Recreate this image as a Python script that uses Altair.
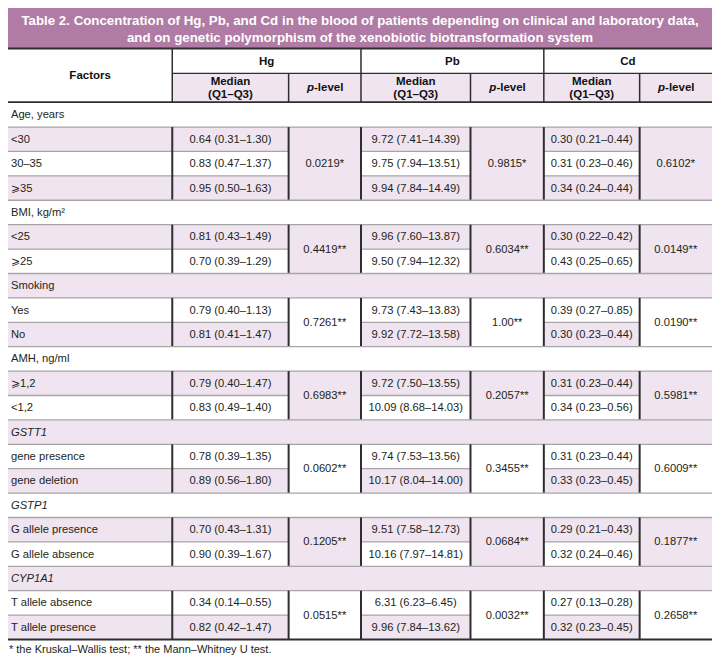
import altair as alt
import pandas as pd

# ---------------- data ----------------
title_lines = [
    "Table 2. Concentration of Hg, Pb, and Cd in the blood of patients depending on clinical and laboratory data,",
    "and on genetic polymorphism of the xenobiotic biotransformation system",
]
metals = ["Hg", "Pb", "Cd"]
header_factors = "Factors"
header_median = ["Median", "(Q1–Q3)"]
header_p_italic = "p"
header_p_rest = "-level"

sections = ["Age, years", "BMI, kg/m²", "Smoking", "AMH, ng/ml", "GSTT1", "GSTP1", "CYP1A1"]
section_italic = [False, False, False, False, True, True, True]
factor_levels = [
    ["<30", "30–35", "⩾35"],
    ["<25", "⩾25"],
    ["Yes", "No"],
    ["⩾1,2", "<1,2"],
    ["gene presence", "gene deletion"],
    ["G allele presence", "G allele absence"],
    ["T allele absence", "T allele presence"],
]

hg_median = [
    ["0.64 (0.31–1.30)", "0.83 (0.47–1.37)", "0.95 (0.50–1.63)"],
    ["0.81 (0.43–1.49)", "0.70 (0.39–1.29)"],
    ["0.79 (0.40–1.13)", "0.81 (0.41–1.47)"],
    ["0.79 (0.40–1.47)", "0.83 (0.49–1.40)"],
    ["0.78 (0.39–1.35)", "0.89 (0.56–1.80)"],
    ["0.70 (0.43–1.31)", "0.90 (0.39–1.67)"],
    ["0.34 (0.14–0.55)", "0.82 (0.42–1.47)"],
]
hg_p = ["0.0219*", "0.4419**", "0.7261**", "0.6983**", "0.0602**", "0.1205**", "0.0515**"]

pb_median = [
    ["9.72 (7.41–14.39)", "9.75 (7.94–13.51)", "9.94 (7.84–14.49)"],
    ["9.96 (7.60–13.87)", "9.50 (7.94–12.32)"],
    ["9.73 (7.43–13.83)", "9.92 (7.72–13.58)"],
    ["9.72 (7.50–13.55)", "10.09 (8.68–14.03)"],
    ["9.74 (7.53–13.56)", "10.17 (8.04–14.00)"],
    ["9.51 (7.58–12.73)", "10.16 (7.97–14.81)"],
    ["6.31 (6.23–6.45)", "9.96 (7.84–13.62)"],
]
pb_p = ["0.9815*", "0.6034**", "1.00**", "0.2057**", "0.3455**", "0.0684**", "0.0032**"]

cd_median = [
    ["0.30 (0.21–0.44)", "0.31 (0.23–0.46)", "0.34 (0.24–0.44)"],
    ["0.30 (0.22–0.42)", "0.43 (0.25–0.65)"],
    ["0.39 (0.27–0.85)", "0.30 (0.23–0.44)"],
    ["0.31 (0.23–0.44)", "0.34 (0.23–0.56)"],
    ["0.31 (0.23–0.44)", "0.33 (0.23–0.45)"],
    ["0.29 (0.21–0.43)", "0.32 (0.24–0.46)"],
    ["0.27 (0.13–0.28)", "0.32 (0.23–0.45)"],
]
cd_p = ["0.6102*", "0.0149**", "0.0190**", "0.5981**", "0.6009**", "0.1877**", "0.2658**"]

footnote = "* the Kruskal–Wallis test; ** the Mann–Whitney U test."

# ---------------- layout ----------------
W, H = 720, 667
COL = [0, 168, 287, 361, 473, 548, 646, 720]
TITLE_BOT = 41.5
SUB_Y = 67
HEAD_BOT = 96.5
ROW0 = 97
RH = 25
LAV = "#efe4ef"
WHITE = "#ffffff"
TITLE_BG = "#b07ba4"
DARK = "#2e2e2e"
GRAY = "#a6a6a6"
TXT = "#231f20"
BODY_FONT = "Liberation Sans, Arial, sans-serif"
TITLE_FONT = "Liberation Sans, Arial, sans-serif"

medians = [hg_median, pb_median, cd_median]
pvals = [hg_p, pb_p, cd_p]
med_cols = [(COL[1], COL[2]), (COL[3], COL[4]), (COL[5], COL[6])]
p_cols = [(COL[2], COL[3]), (COL[4], COL[5]), (COL[6], COL[7])]

rects, rules = [], []
t_left, t_left_it, t_center = [], [], []

# title
rects.append(dict(x=0, x2=W, y=0, y2=TITLE_BOT, fill=TITLE_BG))
title_txt = [dict(x=W / 2, y=13.5, text=title_lines[0]), dict(x=W / 2, y=31, text=title_lines[1])]

# header
rects.append(dict(x=COL[1], x2=W, y=SUB_Y, y2=HEAD_BOT, fill=LAV))
head_bold = [dict(x=COL[1] / 2, y=69.5, text=header_factors)]
for k, (a, b) in enumerate([(COL[1], COL[3]), (COL[3], COL[5]), (COL[5], COL[7])]):
    head_bold.append(dict(x=(a + b) / 2, y=55, text=metals[k]))
p_it, p_rest = [], []
for (a, b) in med_cols:
    head_bold.append(dict(x=(a + b) / 2, y=75.5, text=header_median[0]))
    head_bold.append(dict(x=(a + b) / 2, y=89, text=header_median[1]))
for (a, b) in p_cols:
    c = (a + b) / 2 - 11
    p_it.append(dict(x=c, y=82, text=header_p_italic))
    p_rest.append(dict(x=c, y=82, text=header_p_rest))

rules.append(dict(x=0, x2=W, y=TITLE_BOT, y2=TITLE_BOT, c=DARK, w=2))
rules.append(dict(x=COL[1], x2=W, y=SUB_Y, y2=SUB_Y, c=DARK, w=1.3))
rules.append(dict(x=0, x2=W, y=HEAD_BOT, y2=HEAD_BOT, c=DARK, w=1.8))
for xc in (COL[1], COL[3], COL[5]):
    rules.append(dict(x=xc, x2=xc, y=TITLE_BOT, y2=HEAD_BOT, c=DARK, w=1.5))
for xc in (COL[2], COL[4], COL[6]):
    rules.append(dict(x=xc, x2=xc, y=SUB_Y, y2=HEAD_BOT, c=DARK, w=1.5))

# body
r = 0
for g, sec in enumerate(sections):
    y0 = ROW0 + RH * r
    fill = LAV if r % 2 else WHITE
    rects.append(dict(x=0, x2=W, y=y0, y2=y0 + RH, fill=fill))
    (t_left_it if section_italic[g] else t_left).append(dict(x=3, y=y0 + RH / 2 + 0.5, text=sec))
    if r > 0:
        rules.append(dict(x=0, x2=W, y=y0, y2=y0, c=GRAY, w=1.3))
    r += 1
    first = r
    n = len(factor_levels[g])
    for j in range(n):
        y0 = ROW0 + RH * r
        fill = LAV if r % 2 else WHITE
        rects.append(dict(x=0, x2=COL[1], y=y0, y2=y0 + RH, fill=fill))
        t_left.append(dict(x=3, y=y0 + RH / 2 + 0.5, text=factor_levels[g][j]))
        for k, (a, b) in enumerate(med_cols):
            rects.append(dict(x=a, x2=b, y=y0, y2=y0 + RH, fill=fill))
            t_center.append(dict(x=(a + b) / 2, y=y0 + RH / 2 + 0.5, text=medians[k][g][j]))
        if j == 0:
            rules.append(dict(x=0, x2=W, y=y0, y2=y0, c=GRAY, w=1.3))
        else:
            for (a, b) in [(0, COL[2]), (COL[3], COL[4]), (COL[5], COL[6])]:
                rules.append(dict(x=a, x2=b, y=y0, y2=y0, c=GRAY, w=1.3))
        r += 1
    ytop = ROW0 + RH * first
    ybot = ROW0 + RH * r
    pfill = LAV if first % 2 else WHITE
    for k, (a, b) in enumerate(p_cols):
        rects.append(dict(x=a, x2=b, y=ytop, y2=ybot, fill=pfill))
        t_center.append(dict(x=(a + b) / 2, y=(ytop + ybot) / 2 + 0.5, text=pvals[k][g]))
    for xc in COL[1:7]:
        rules.append(dict(x=xc, x2=xc, y=ytop, y2=ybot, c=DARK, w=2))

bottom = ROW0 + RH * r
rules.append(dict(x=0, x2=W, y=bottom, y2=bottom, c=DARK, w=1.8))
foot_txt = [dict(x=1, y=bottom + 10.5, text=footnote)]

# ---------------- chart ----------------
xs = alt.Scale(domain=[0, W], nice=False, zero=False)
ys = alt.Scale(domain=[0, H], nice=False, zero=False, reverse=True)
X = alt.X("x:Q", scale=xs, axis=None)
Y = alt.Y("y:Q", scale=ys, axis=None)

rect_layer = alt.Chart(pd.DataFrame(rects)).mark_rect().encode(
    x=X, x2="x2:Q", y=Y, y2="y2:Q", fill=alt.Fill("fill:N", scale=None)
)
rule_layer = alt.Chart(pd.DataFrame(rules)).mark_rule().encode(
    x=X, x2="x2:Q", y=Y, y2="y2:Q",
    color=alt.Color("c:N", scale=None),
    strokeWidth=alt.StrokeWidth("w:Q", scale=None),
)


def tl(rows, **kw):
    return alt.Chart(pd.DataFrame(rows)).mark_text(baseline="middle", **kw).encode(
        x=X, y=Y, text="text:N"
    )


layers = [
    rect_layer,
    rule_layer,
    tl(title_txt, align="center", font=TITLE_FONT, fontSize=13.3, fontWeight="bold", color="white"),
    tl(head_bold, align="center", font=BODY_FONT, fontSize=11.5, fontWeight="bold", color="#111111"),
    tl(p_it, align="right", font=BODY_FONT, fontSize=11.5, fontWeight="bold", fontStyle="italic", color="#111111"),
    tl(p_rest, align="left", font=BODY_FONT, fontSize=11.5, fontWeight="bold", color="#111111"),
    tl(t_left, align="left", font=BODY_FONT, fontSize=11.2, color=TXT),
    tl(t_left_it, align="left", font=BODY_FONT, fontSize=11.2, fontStyle="italic", color=TXT),
    tl(t_center, align="center", font=BODY_FONT, fontSize=11.2, color=TXT),
    tl(foot_txt, align="left", font=BODY_FONT, fontSize=11, color=TXT),
]

chart = (
    alt.layer(*layers)
    .properties(width=704, height=651, padding=0, autosize=alt.AutoSizeParams(type="none"))
    .configure_view(stroke=None)
)

chart.save("out.html", embed_options={"renderer": "svg", "actions": False})
